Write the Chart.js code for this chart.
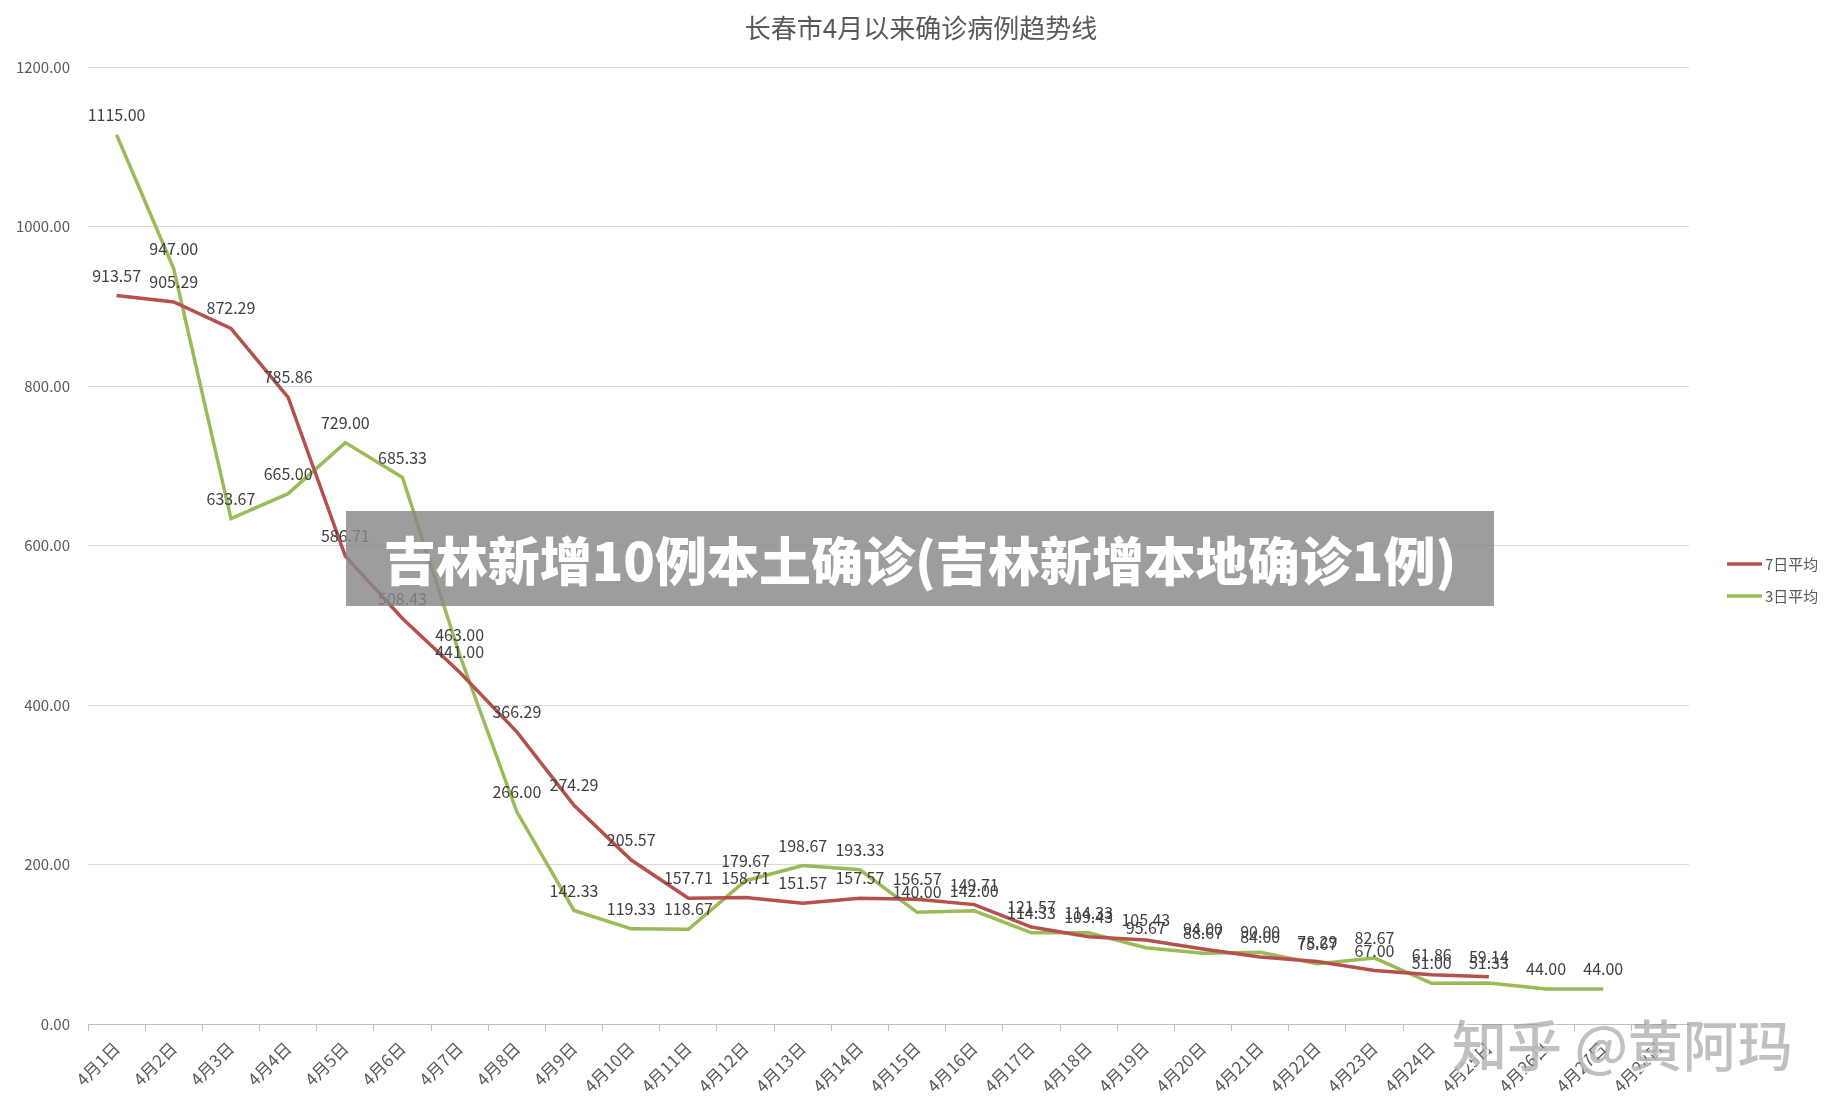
<!DOCTYPE html>
<html>
<head>
<meta charset="utf-8">
<script src="https://cdn.jsdelivr.net/npm/chart.js@4"></script>
<style>
  html, body { margin: 0; padding: 0; background: #fff; }
  #wrap { position: relative; width: 1842px; height: 1117px; }
  #banner {
    position: absolute; left: 346px; top: 511px; width: 1148px; height: 95px;
    background: rgba(135, 135, 135, 0.82); color: #fff;
    font: 900 52px "Noto Sans CJK SC", sans-serif;
    display: flex; align-items: center; justify-content: center;
  }
  #mark {
    position: absolute; left: 1452px; top: 1002px;
    font: 500 55px "Noto Sans CJK SC", sans-serif; color: rgba(140, 140, 140, 0.55);
    text-shadow: 2px 2px 0 rgba(255,255,255,0.8);
  }
</style>
</head>
<body>
<div id="wrap">
  <canvas id="trend" width="1842" height="1117"></canvas>
  <div id="banner">吉林新增10例本土确诊(吉林新增本地确诊1例)</div>
  <div id="mark">知乎 @黄阿玛</div>
</div>
<script>
// categories: 4月1日 .. 4月28日
const days = [];
for (let d = 1; d <= 28; d++) days.push('4月' + d + '日');

const avg7 = [913.57, 905.29, 872.29, 785.86, 586.71, 508.43, 441.00, 366.29, 274.29, 205.57,
  157.71, 158.71, 151.57, 157.57, 156.57, 149.71, 121.57, 109.43, 105.43, 94.00,
  84.00, 78.29, 67.00, 61.86, 59.14];
const avg3 = [1115.00, 947.00, 633.67, 665.00, 729.00, 685.33, 463.00, 266.00, 142.33, 119.33,
  118.67, 179.67, 198.67, 193.33, 140.00, 142.00, 114.33, 114.33, 95.67, 88.67,
  90.00, 75.67, 82.67, 51.00, 51.33, 44.00, 44.00];
const yTicks = [0, 200, 400, 600, 800, 1000, 1200];
const titleText = '长春市4月以来确诊病例趋势线';

const fontFamily = '"Noto Sans CJK SC", "Noto Sans", sans-serif';

// value labels above every point
const valueLabels = {
  id: 'valueLabels',
  afterDatasetsDraw(chart) {
    const ctx = chart.ctx;
    ctx.save();
    ctx.font = '16px ' + fontFamily;
    ctx.fillStyle = '#404040';
    ctx.textAlign = 'center';
    ctx.textBaseline = 'bottom';
    chart.data.datasets.forEach((ds, i) => {
      chart.getDatasetMeta(i).data.forEach((pt, j) => {
        const v = ds.data[j];
        if (v == null) return;
        ctx.fillText(v.toFixed(2), pt.x, pt.y - 12);
      });
    });
    ctx.restore();
  }
};

// title centred on the page + legend on the right, Excel style
const sideLegend = {
  id: 'sideLegend',
  afterDraw(chart) {
    const ctx = chart.ctx;
    ctx.save();
    ctx.font = '26px ' + fontFamily;
    ctx.fillStyle = '#595959';
    ctx.textAlign = 'center';
    ctx.textBaseline = 'middle';
    ctx.fillText(titleText, chart.width / 2, 28);

    ctx.textAlign = 'left';
    ctx.font = '15px ' + fontFamily;
    chart.data.datasets.forEach((ds, i) => {
      const y = 564 + i * 32;
      ctx.strokeStyle = ds.borderColor;
      ctx.lineWidth = 3.5;
      ctx.beginPath();
      ctx.moveTo(1727, y);
      ctx.lineTo(1762, y);
      ctx.stroke();
      ctx.fillStyle = '#595959';
      ctx.fillText(ds.label, 1765, y);
    });
    ctx.restore();
  }
};

new Chart(document.getElementById('trend'), {
  type: 'line',
  data: {
    labels: days,
    datasets: [
      { label: '7日平均', data: avg7, borderColor: '#b5504d', borderWidth: 3.5 },
      { label: '3日平均', data: avg3, borderColor: '#9bbb59', borderWidth: 3.5 }
    ]
  },
  options: {
    responsive: false,
    animation: false,
    layout: { padding: { top: 67, right: 153, left: 0, bottom: 0 } },
    elements: { point: { radius: 0 }, line: { tension: 0 } },
    plugins: {
      legend: { display: false },
      tooltip: { enabled: false },
      title: { display: false }
    },
    scales: {
      x: {
        offset: true,
        grid: { offset: true, drawOnChartArea: false, tickLength: 7, color: '#bfbfbf' },
        border: { color: '#bfbfbf' },
        ticks: {
          autoSkip: false, maxRotation: 45, minRotation: 45, padding: 7,
          color: '#595959', font: { family: fontFamily, size: 17 }
        },
        afterFit(s) { s.height = 93; }
      },
      y: {
        min: 0, max: 1200,
        afterBuildTicks(s) { s.ticks = yTicks.map(v => ({ value: v })); },
        grid: { color: '#d9d9d9', drawTicks: false },
        border: { display: false },
        ticks: {
          padding: 18, color: '#595959',
          font: { family: fontFamily, size: 15 },
          callback: v => v.toFixed(2)
        },
        afterFit(s) { s.width = 88; }
      }
    }
  },
  plugins: [valueLabels, sideLegend]
});
</script>
</body>
</html>
